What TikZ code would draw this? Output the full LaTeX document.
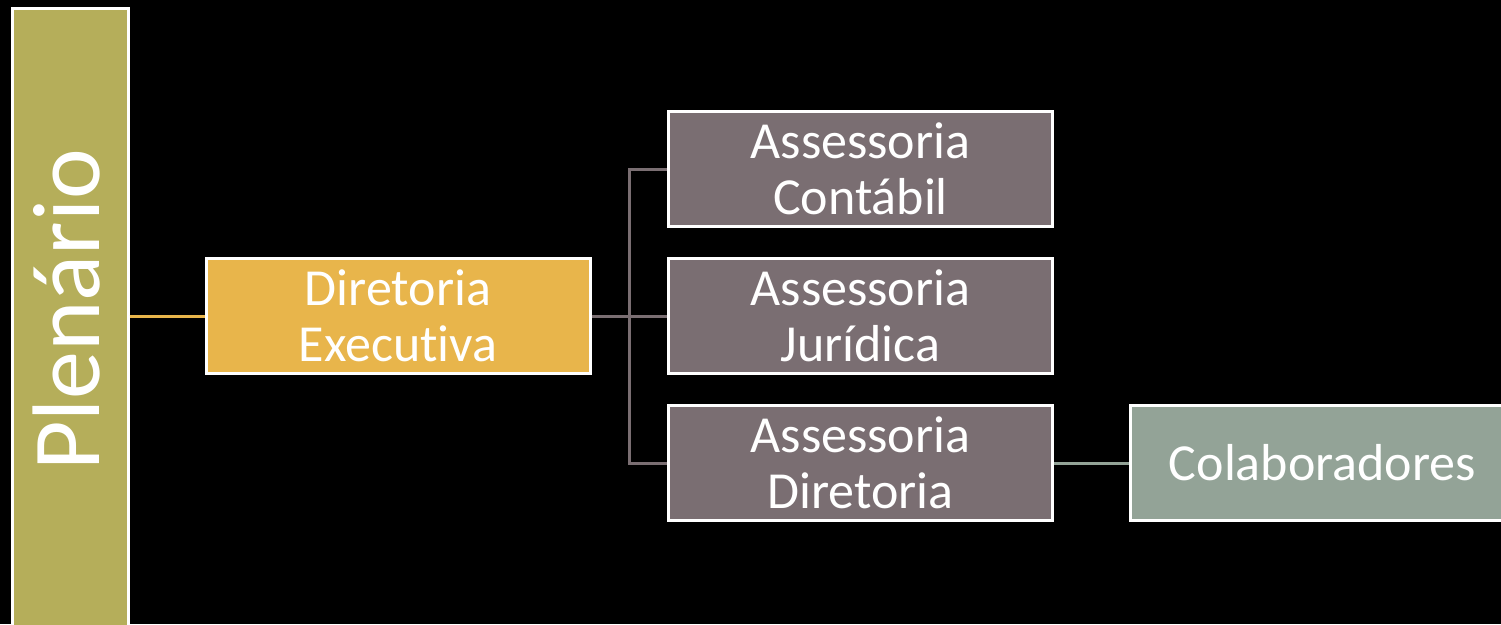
\documentclass[tikz,border=0pt]{standalone}
\usepackage{fontspec}
\setmainfont{Carlito}[RawFeature={-liga;-clig}]
\definecolor{plen}{HTML}{B5AE5A}
\definecolor{dir}{HTML}{E8B54B}
\definecolor{ass}{HTML}{7A6E72}
\definecolor{col}{HTML}{93A397}
\tikzset{
  box/.style={draw=white, line width=3pt, minimum width=384pt, minimum height=115pt, inner sep=0pt, text=white, align=center, font=\fontsize{52}{56}\selectfont},
  conn/.style={line width=3pt},
}
\begin{document}
\begin{tikzpicture}[x=1pt,y=-1pt]
\fill[black] (0,0) rectangle (1501,624);
\clip (0,0) rectangle (1501,624);
\node[box, fill=plen, minimum width=116pt, minimum height=630pt, anchor=north west] (plen) at (10.5,6.5) {};
\node[text=white, rotate=90, font=\fontsize{96}{100}\selectfont, inner sep=0pt] (plent) at (67,310) {Plenário};
\node[box, fill=dir] (dir) at (398,316) {Diretoria\\Execut\kern0pt iva};
\node[box, fill=ass] (a1) at (860.5,169) {Assessoria\\Contábil};
\node[box, fill=ass] (a2) at (860.5,316) {Assessoria\\Jurídica};
\node[box, fill=ass] (a3) at (860.5,463) {Assessoria\\Diretoria};
\node[box, fill=col] (colab) at (1322.5,463) {Colaboradores};
\coordinate (j) at (629,316);
\draw[conn, draw=dir] (plen.east |- dir.west) -- (dir.west);
\draw[conn, draw=ass] (dir.east) -- (j);
\draw[conn, draw=ass] (a1.west) -- (j |- a1.west) -- (j |- a3.west) -- (a3.west);
\draw[conn, draw=ass] (j) -- (a2.west);
\draw[conn, draw=col] (a3.east) -- (colab.west);
\end{tikzpicture}
\end{document}
